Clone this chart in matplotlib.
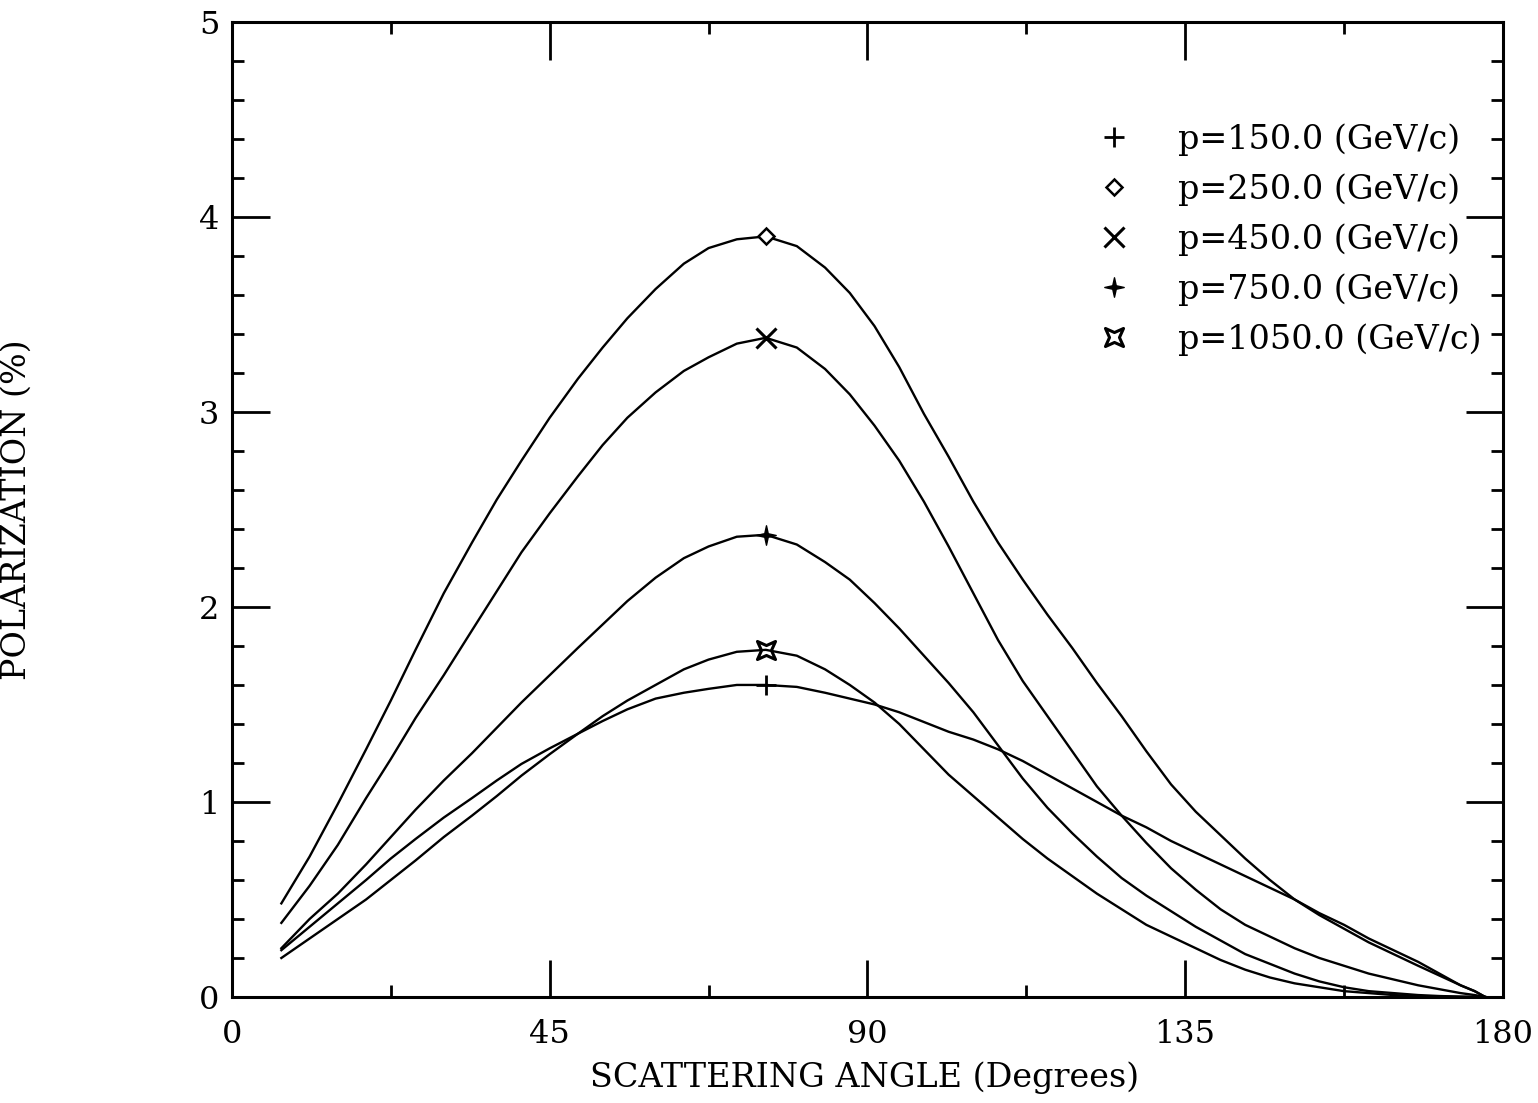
import numpy as np
import matplotlib
matplotlib.use('Agg')
import matplotlib.pyplot as plt
from matplotlib.path import Path
from matplotlib.lines import Line2D

# scattering angle grid (deg) at which the curves were read
angle = [7, 11, 15, 19, 22.5, 26, 30, 34, 37.5, 41, 45, 49, 52.5, 56, 60, 64, 67.5,
         71.5, 75.6, 80, 84, 87.5, 91, 94.5, 98, 101.5, 105, 108.5, 112, 115.5, 119,
         122.5, 126, 129.5, 133, 136.5, 140, 143.5, 147, 150.5, 154, 157.5, 161,
         164.5, 168, 171, 174, 176, 177.5]

# polarization (%) for each beam momentum
pol_150 = [0.24, 0.36, 0.48, 0.60, 0.71, 0.81, 0.92, 1.02, 1.11, 1.195, 1.275, 1.35,
           1.415, 1.475, 1.53, 1.56, 1.58, 1.60, 1.60, 1.59, 1.56, 1.53, 1.50, 1.46,
           1.41, 1.36, 1.32, 1.27, 1.21, 1.14, 1.07, 1.00, 0.93, 0.87, 0.80, 0.74,
           0.68, 0.62, 0.56, 0.50, 0.43, 0.37, 0.30, 0.24, 0.18, 0.12, 0.06, 0.03, 0.0]
pol_250 = [0.48, 0.72, 0.99, 1.27, 1.52, 1.78, 2.07, 2.33, 2.55, 2.75, 2.97, 3.17,
           3.33, 3.48, 3.63, 3.76, 3.84, 3.885, 3.90, 3.85, 3.74, 3.61, 3.44, 3.23,
           2.99, 2.77, 2.54, 2.33, 2.14, 1.96, 1.79, 1.61, 1.44, 1.26, 1.09, 0.95,
           0.83, 0.71, 0.60, 0.50, 0.42, 0.35, 0.28, 0.22, 0.16, 0.11, 0.06, 0.03, 0.0]
pol_450 = [0.38, 0.57, 0.78, 1.02, 1.22, 1.43, 1.65, 1.88, 2.08, 2.28, 2.48, 2.67,
           2.83, 2.97, 3.10, 3.21, 3.28, 3.35, 3.38, 3.33, 3.22, 3.09, 2.93, 2.75,
           2.54, 2.31, 2.07, 1.83, 1.62, 1.44, 1.26, 1.08, 0.93, 0.79, 0.66, 0.55,
           0.45, 0.37, 0.31, 0.25, 0.20, 0.16, 0.12, 0.09, 0.06, 0.04, 0.02, 0.01, 0.0]
pol_750 = [0.25, 0.40, 0.53, 0.68, 0.82, 0.96, 1.11, 1.25, 1.38, 1.51, 1.65, 1.79,
           1.91, 2.03, 2.15, 2.25, 2.31, 2.36, 2.37, 2.32, 2.23, 2.14, 2.02, 1.89,
           1.75, 1.61, 1.46, 1.29, 1.12, 0.97, 0.84, 0.72, 0.61, 0.52, 0.44, 0.36,
           0.29, 0.22, 0.17, 0.12, 0.08, 0.05, 0.03, 0.02, 0.01, 0.005, 0.002, 0.001, 0.0]
pol_1050 = [0.20, 0.30, 0.40, 0.50, 0.60, 0.70, 0.82, 0.93, 1.03, 1.135, 1.245, 1.35,
            1.44, 1.52, 1.60, 1.68, 1.73, 1.77, 1.78, 1.75, 1.68, 1.60, 1.51, 1.40,
            1.27, 1.14, 1.03, 0.92, 0.81, 0.71, 0.62, 0.53, 0.45, 0.37, 0.31, 0.25,
            0.19, 0.14, 0.10, 0.07, 0.05, 0.03, 0.02, 0.01, 0.005, 0.002, 0.001, 0.0, 0.0]

labels = ['p=150.0 (GeV/c)', 'p=250.0 (GeV/c)', 'p=450.0 (GeV/c)',
          'p=750.0 (GeV/c)', 'p=1050.0 (GeV/c)']
peak_idx = angle.index(75.6)  # symbol drawn at the peak

# custom markers
star4 = Path([(0, 1), (0.18, 0.18), (1, 0), (0.18, -0.18), (0, -1), (-0.18, -0.18),
              (-1, 0), (-0.18, 0.18), (0, 1)],
             [Path.MOVETO] + [Path.LINETO] * 7 + [Path.CLOSEPOLY])
cross_box = Path([(1, 1), (0, 0.55), (-1, 1), (-0.55, 0), (-1, -1), (0, -0.55),
                  (1, -1), (0.55, 0), (1, 1)],
                 [Path.MOVETO] + [Path.LINETO] * 7 + [Path.CLOSEPOLY])

styles = [
    dict(marker='+', ms=14, mew=2.0, mfc='k'),
    dict(marker='D', ms=8, mew=1.8, mfc='white'),
    dict(marker='x', ms=14, mew=2.2, mfc='k'),
    dict(marker=star4, ms=14, mew=1.0, mfc='k'),
    dict(marker=cross_box, ms=13, mew=2.2, mfc='none'),
]

plt.rcParams['font.family'] = 'DejaVu Serif'

fig = plt.figure(figsize=(15.38, 11.03), dpi=100)
ax = fig.add_axes([0.1508, 0.0961, 0.8264, 0.8841])

series = [pol_150, pol_250, pol_450, pol_750, pol_1050]
for vals, st in zip(series, styles):
    ax.plot(angle, vals, color='k', lw=1.7, mec='k', markevery=[peak_idx], **st)

ax.set_xlim(0, 180)
ax.set_ylim(0, 5)
ax.set_xticks([0, 45, 90, 135, 180])
ax.set_xticks([22.5, 67.5, 112.5, 157.5], minor=True)
ax.set_yticks([0, 1, 2, 3, 4, 5])
ax.set_yticks(np.arange(0, 5.01, 0.2), minor=True)

ax.tick_params(which='both', direction='in', top=True, right=True, width=2, labelsize=23)
ax.tick_params(which='major', length=27)
ax.tick_params(which='minor', length=8.5)
ax.tick_params(axis='x', pad=16)
ax.tick_params(axis='y', pad=9)
for sp in ax.spines.values():
    sp.set_linewidth(2.2)

ax.set_xlabel('SCATTERING ANGLE (Degrees)', fontsize=24)
ax.set_ylabel('POLARIZATION (%)', fontsize=24)
ax.xaxis.set_label_coords(0.498, -0.066)
ax.yaxis.set_label_coords(-0.157, 0.5)

handles = [Line2D([], [], color='k', ls='none', mec='k', **st) for st in styles]
ax.legend(handles, labels, loc='upper right', bbox_to_anchor=(0.996, 0.913),
          frameon=False, fontsize=24, handlelength=1.2, handletextpad=1.3,
          labelspacing=0.52, borderpad=0)

fig.savefig('out.png', dpi=100)
